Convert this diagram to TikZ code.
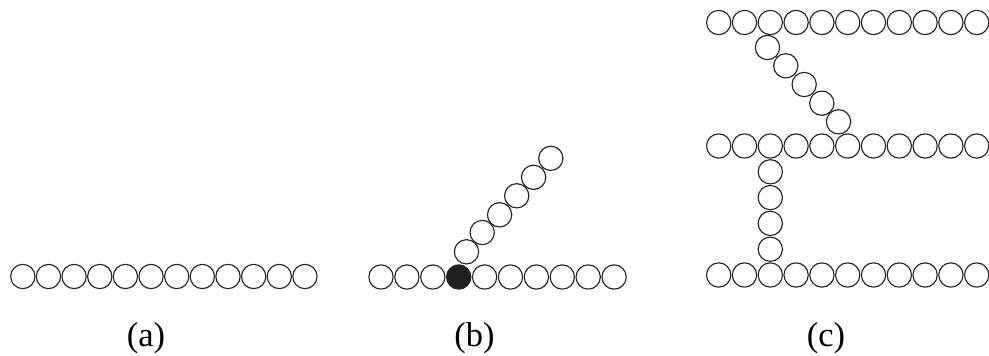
\documentclass[tikz,border=0pt]{standalone}
\usepackage{fontspec}
\setmainfont{Liberation Serif}
\newfontfamily\labfont{Liberation Serif}
\begin{document}
\begin{tikzpicture}[x=1pt,y=-1pt,
  bead/.style={circle,draw=black!85,line width=1.15pt,minimum size=24.3pt,inner sep=0pt},
  fullbead/.style={bead,fill=black!88},
  lab/.style={font=\labfont\fontsize{34.5}{40}\selectfont,anchor=base,inner sep=0pt}]
\useasboundingbox (0,0) rectangle (989,356);
\clip (0,0) rectangle (989,356);
% (a)
\foreach \i in {0,...,11} \node[bead] (a\i) at ({22.8+25.65*\i},276.5) {};
% (b)
\foreach \i in {0,1,2,4,5,6,7,8,9} \node[bead] (b\i) at ({381+25.9*\i},277) {};
\node[fullbead] (b3) at (458.7,277) {};
\foreach \x/\y [count=\k] in {466.5/251.8,482.2/232.5,499.6/214.8,516.7/195.8,533.6/177.3,550.8/158.3}
  \node[bead] (bb\k) at (\x,\y) {};
% (c)
\foreach \i in {0,...,10} {
  \node[bead] (ct\i) at ({718.7+25.8*\i},22.5) {};
  \node[bead] (cm\i) at ({718.7+25.8*\i},146) {};
  \node[bead] (cb\i) at ({718.7+25.8*\i},275) {};
}
\foreach \x/\y [count=\k] in {767.5/47.5,785.8/65.8,804.2/84.5,821.8/103.2,838.5/121.8}
  \node[bead] (cd\k) at (\x,\y) {};
\foreach \y [count=\k] in {171.8,197.6,223.4,249.2}
  \node[bead] (cv\k) at (770.3,\y) {};
% labels
\node[lab] (la) at (146,346) {(a)};
\node[lab] (lb) at (474.5,346) {(b)};
\node[lab] (lc) at (826,346) {(c)};
\end{tikzpicture}
\end{document}
